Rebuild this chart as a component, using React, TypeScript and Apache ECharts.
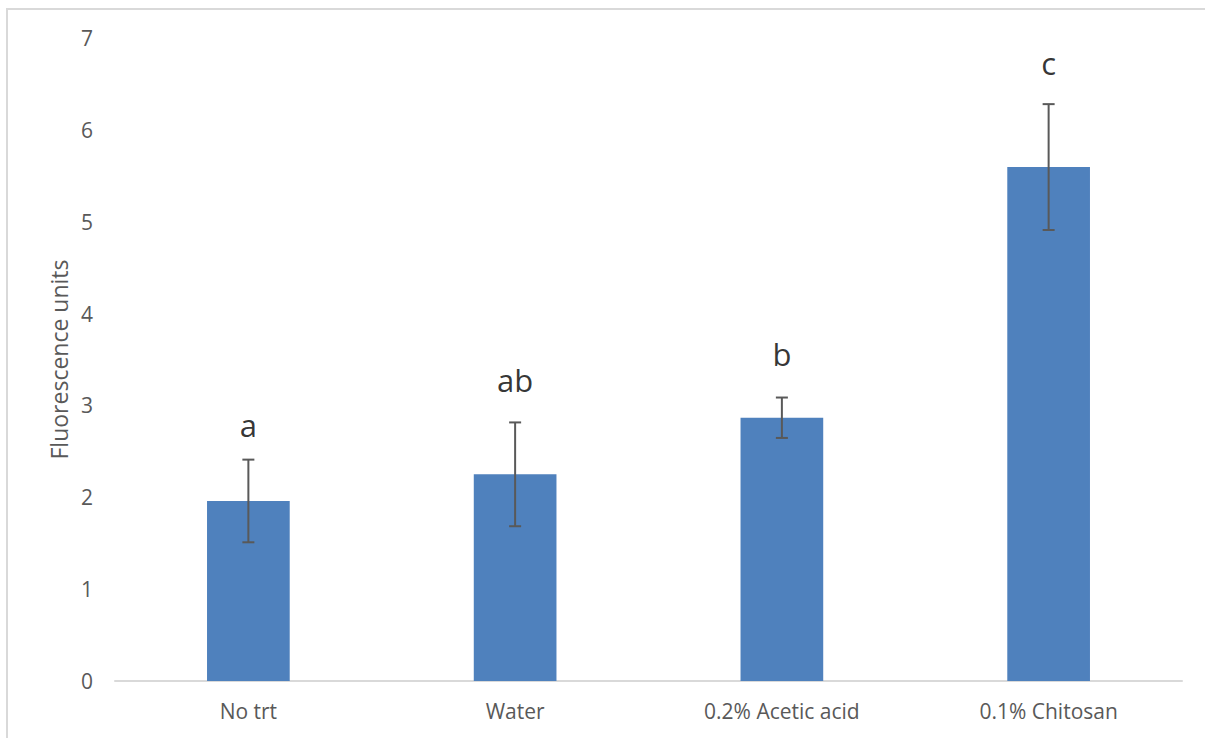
import React, { useEffect, useRef } from "react";
import * as echarts from "echarts";

const categories = ["No trt", "Water", "0.2% Acetic acid", "0.1% Chitosan"];
const means = [1.96, 2.25, 2.866, 5.595];
const errors = [0.45, 0.565, 0.22, 0.685];
const letters = ["a", "ab", "b", "c"];
const letterBaselines = [2.66, 3.15, 3.44, 6.6];
const yTicks = [0, 1, 2, 3, 4, 5, 6, 7];

export default function App() {
  const ref = useRef<HTMLDivElement>(null);
  useEffect(() => {
    if (!ref.current) return;
    const chart = echarts.init(ref.current, null, { renderer: "svg" });
    const font = "'Open Sans', sans-serif";
    chart.setOption({
      animation: false,
      backgroundColor: "#ffffff",
      graphic: [
        {
          type: "polyline",
          shape: { points: [[7, 738], [7, 9], [1205, 9]] },
          style: { stroke: "#d9d9d9", lineWidth: 2, fill: "none" },
          silent: true,
        },
      ],
      grid: { left: 115, right: 23, top: 38, bottom: 57 },
      xAxis: {
        type: "category",
        data: categories,
        axisLine: { lineStyle: { color: "#d9d9d9", width: 2 } },
        axisTick: { show: false },
        axisLabel: { color: "#595959", fontSize: 21, fontFamily: font, margin: 19 },
      },
      yAxis: {
        type: "value",
        min: yTicks[0],
        max: yTicks[yTicks.length - 1],
        interval: 1,
        name: "Fluorescence units",
        nameLocation: "middle",
        nameGap: 44,
        nameTextStyle: { color: "#595959", fontSize: 23, fontFamily: font },
        axisLine: { show: false },
        axisTick: { show: false },
        splitLine: { show: false },
        axisLabel: { color: "#595959", fontSize: 21, fontFamily: font, margin: 22 },
      },
      series: [
        {
          type: "bar",
          data: means,
          barWidth: "31%",
          itemStyle: { color: "#4f81bd" },
          silent: true,
        },
        {
          type: "custom",
          silent: true,
          data: means.map((m, i) => [i, m - errors[i], m + errors[i]]),
          renderItem: (params: any, api: any) => {
            const x = api.value(0);
            const lo = api.coord([x, api.value(1)]);
            const hi = api.coord([x, api.value(2)]);
            const w = 6;
            const style = { stroke: "#595959", lineWidth: 2 };
            return {
              type: "group",
              children: [
                { type: "line", shape: { x1: lo[0], y1: lo[1], x2: hi[0], y2: hi[1] }, style },
                { type: "line", shape: { x1: hi[0] - w, y1: hi[1], x2: hi[0] + w, y2: hi[1] }, style },
                { type: "line", shape: { x1: lo[0] - w, y1: lo[1], x2: lo[0] + w, y2: lo[1] }, style },
              ],
            };
          },
          z: 3,
        },
        {
          type: "scatter",
          silent: true,
          symbolSize: 1,
          itemStyle: { color: "transparent" },
          data: letterBaselines.map((v, i) => [i, v]),
          label: {
            show: true,
            position: "inside",
            formatter: (p: any) => letters[p.dataIndex],
            color: "#000000",
            fontSize: 31,
            fontFamily: font,
            verticalAlign: "bottom",
            offset: [0, 4],
          },
        },
      ],
    });
    return () => chart.dispose();
  }, []);
  return (
    <div
      ref={ref}
      style={{ position: "fixed", left: 0, top: 0, width: 1205, height: 738 }}
    />
  );
}
